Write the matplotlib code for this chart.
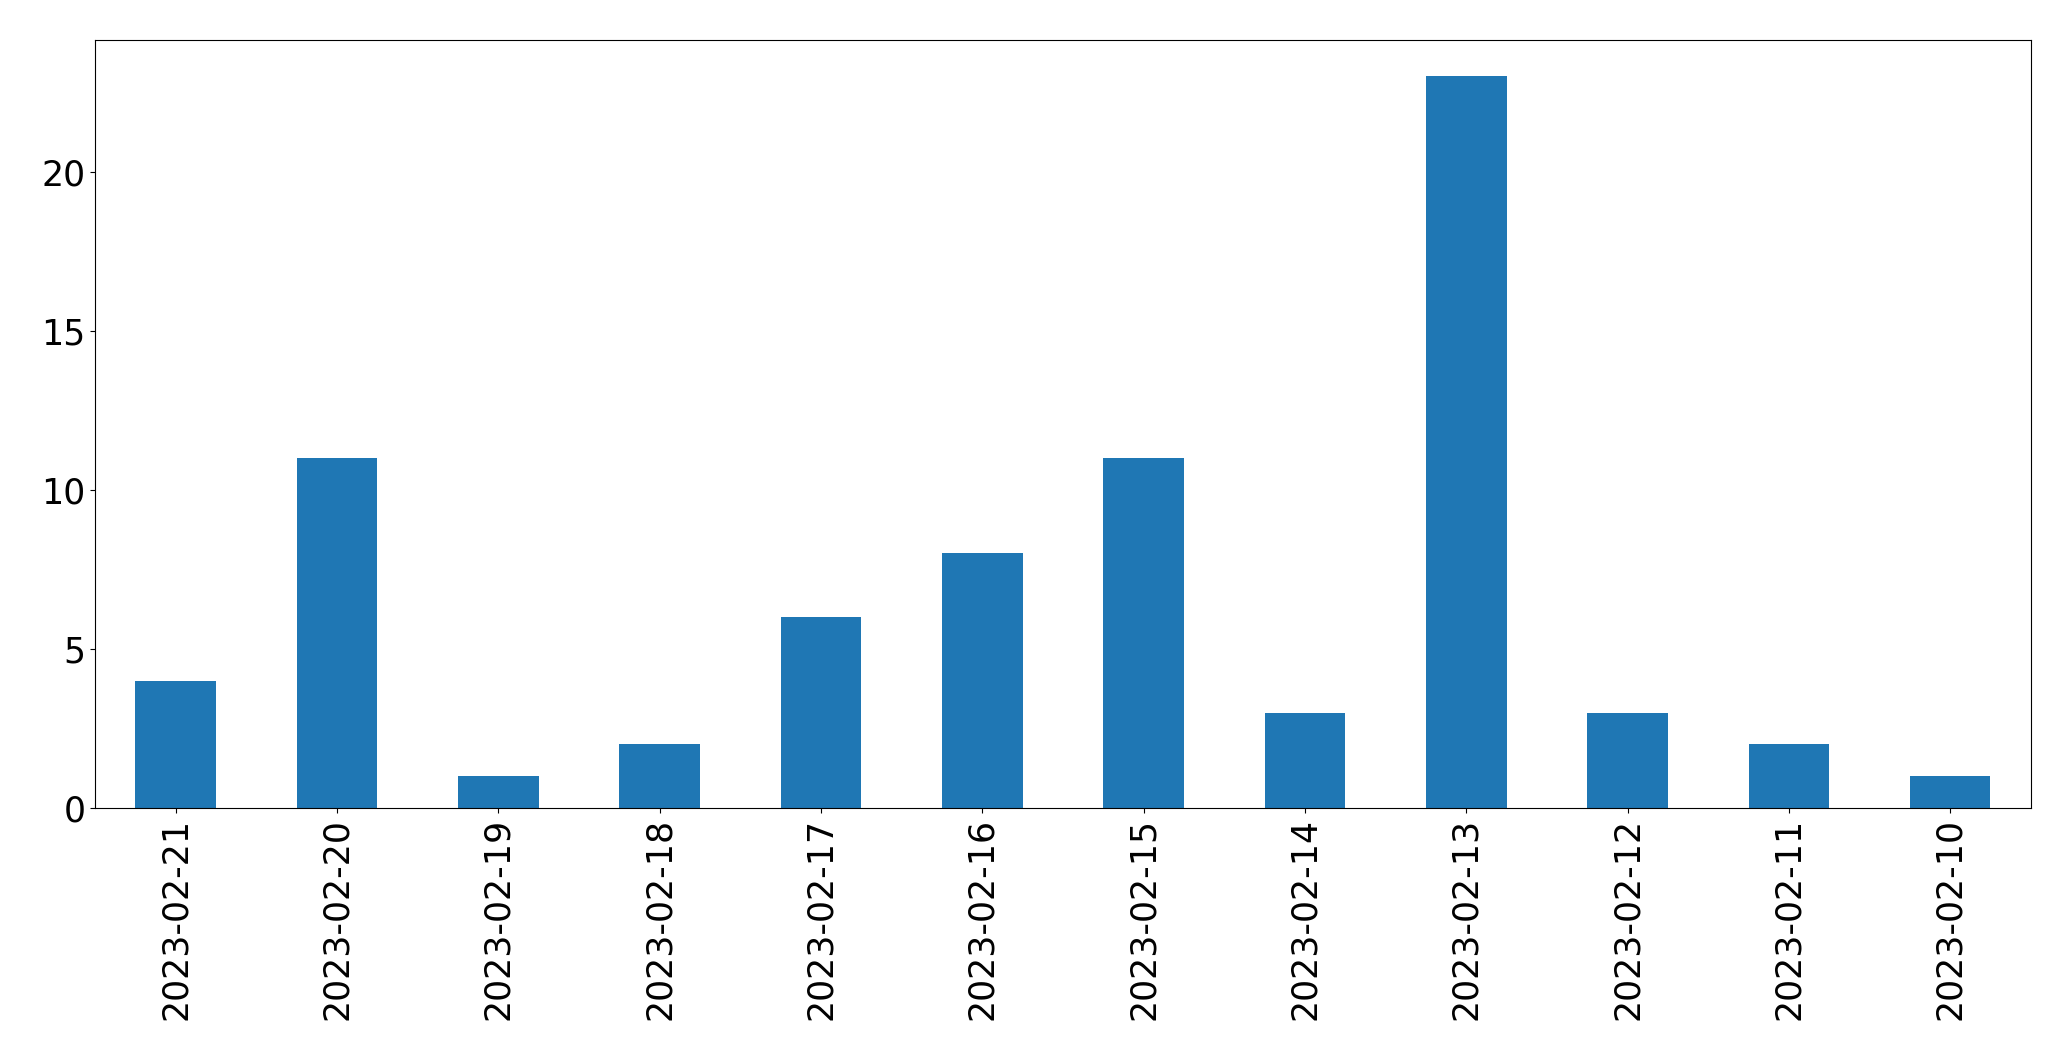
import matplotlib
matplotlib.use("Agg")
import matplotlib.pyplot as plt

dates = ["2023-02-21", "2023-02-20", "2023-02-19", "2023-02-18", "2023-02-17", "2023-02-16",
         "2023-02-15", "2023-02-14", "2023-02-13", "2023-02-12", "2023-02-11", "2023-02-10"]
counts = [4, 11, 1, 2, 6, 8, 11, 3, 23, 3, 2, 1]

fig = plt.figure(figsize=(20.71, 10.61), dpi=100)
ax = fig.add_axes([0.0459, 0.2385, 0.9347, 0.7240])

x = range(len(dates))
ax.bar(x, counts, width=0.5, color="#1f77b4")
ax.set_xticks(list(x))
ax.set_xticklabels(dates, rotation=90)
ax.set_xlim(-0.5, len(dates) - 0.5)
ax.set_ylim(0, max(counts) * 1.05)
ax.set_yticks([0, 5, 10, 15, 20])
ax.tick_params(labelsize=25)

fig.savefig("out.png", dpi=100)
